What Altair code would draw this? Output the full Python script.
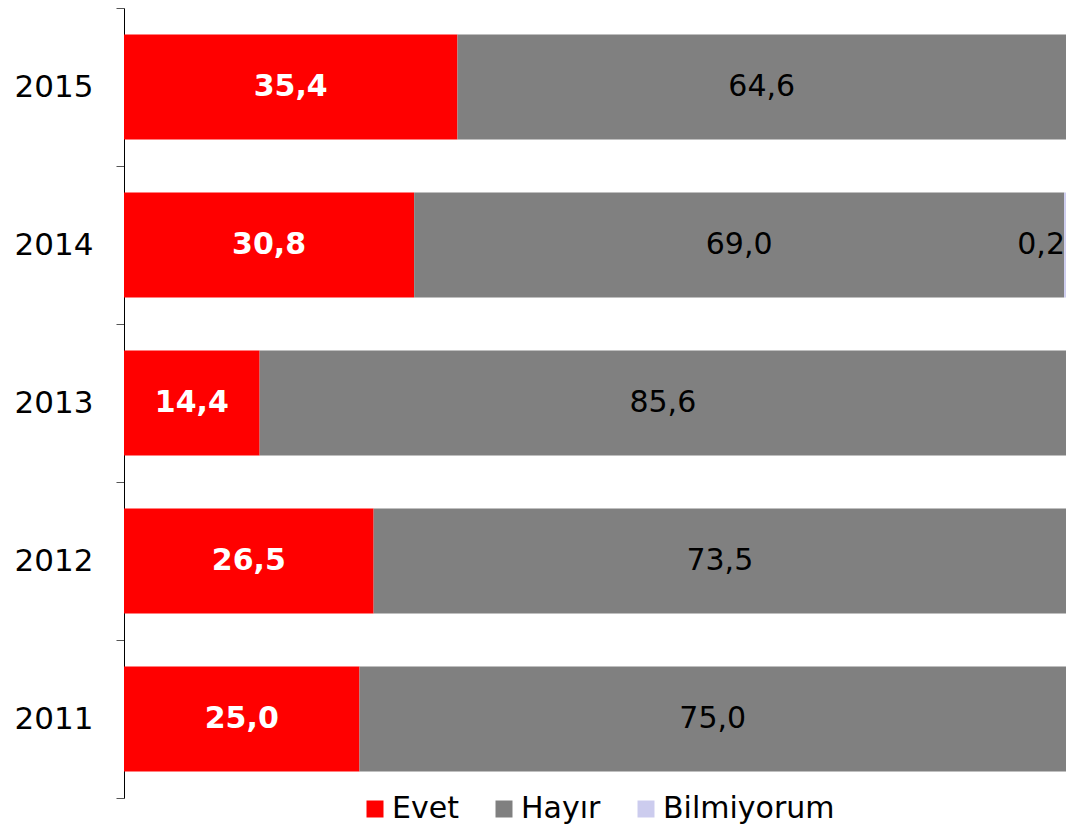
import altair as alt
import pandas as pd

years = ["2015", "2014", "2013", "2012", "2011"]
categories = ["Evet", "Hayır", "Bilmiyorum"]
evet = [35.4, 30.8, 14.4, 26.5, 25.0]
hayir = [64.6, 69.0, 85.6, 73.5, 75.0]
bilmiyorum = [0.0, 0.2, 0.0, 0.0, 0.0]
colors = ["#FF0000", "#808080", "#CCCCEE"]

rows = []
for i, y in enumerate(years):
    for k, (cat, vals) in enumerate(zip(categories, [evet, hayir, bilmiyorum])):
        rows.append({"year": y, "cat": cat, "ord": k, "value": vals[i]})
df = pd.DataFrame(rows)

FONT = "DejaVu Sans"

base = alt.Chart(df).transform_stack(
    stack="value", groupby=["year"], as_=["x0", "x1"],
    sort=[alt.SortField("ord", order="ascending")]
).transform_calculate(
    mid="(datum.x0 + datum.x1) / 2",
    label="replace(format(datum.value, '.1f'), '.', ',')"
)

yscale = alt.Scale(paddingInner=0, paddingOuter=0)
yenc = alt.Y("year:N", sort=years, title=None, scale=yscale,
             axis=alt.Axis(tickBand="extent", domainColor="black", tickColor="#555555",
                           tickSize=8, labelFontSize=31, labelFont=FONT, labelColor="black",
                           labelPadding=23, domainWidth=1, tickWidth=1))

xscale = alt.Scale(domain=[0, 100], nice=False, zero=True)

bars = base.mark_bar(height={"band": 0.665}).encode(
    x=alt.X("x0:Q", scale=xscale, axis=None, title=None),
    x2="x1:Q",
    y=yenc,
    color=alt.Color("cat:N", sort=categories,
                    scale=alt.Scale(domain=categories, range=colors),
                    legend=alt.Legend(title=None, orient="none", direction="horizontal",
                                      legendX=236, legendY=786, labelFont=FONT, labelFontSize=30,
                                      labelColor="black", symbolType="square", symbolSize=289,
                                      symbolStrokeWidth=0, columnPadding=30, labelOffset=2,
                                      symbolOffset=0, labelLimit=0)),
)

evet_txt = base.transform_filter("datum.cat == 'Evet'").mark_text(
    font=FONT, fontSize=30, fontWeight="bold", color="white"
).encode(x=alt.X("mid:Q", scale=xscale), y=alt.Y("year:N", sort=years, scale=yscale), text="label:N")

hayir_txt = base.transform_filter("datum.cat == 'Hayır'").mark_text(
    font=FONT, fontSize=30, color="black"
).encode(x=alt.X("mid:Q", scale=xscale), y=alt.Y("year:N", sort=years, scale=yscale), text="label:N")

bil_txt = base.transform_filter("datum.cat == 'Bilmiyorum' && datum.value > 0").mark_text(
    font=FONT, fontSize=30, color="black", align="right", dx=-1
).encode(x=alt.X("x1:Q", scale=xscale), y=alt.Y("year:N", sort=years, scale=yscale), text="label:N")

chart = alt.layer(bars, evet_txt, hayir_txt, bil_txt).properties(
    width=942, height=790,
    autosize=alt.AutoSizeParams(type="none"),
    padding={"left": 116, "top": 0, "right": 0, "bottom": 30},
).configure_view(stroke=None)

chart.save("out.html", embed_options={"renderer": "svg", "actions": False})
